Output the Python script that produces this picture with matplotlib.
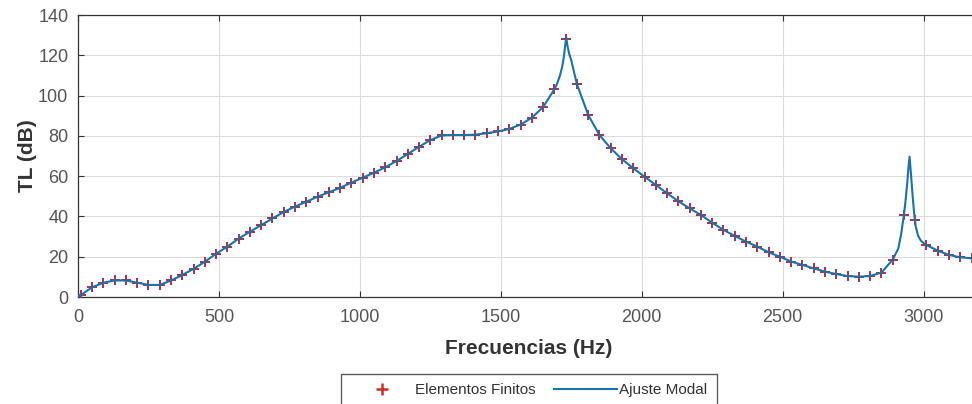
"""TL frente a frecuencia: elementos finitos vs ajuste modal"""

import numpy as np
import matplotlib
matplotlib.use("Agg")
import matplotlib.pyplot as plt
from matplotlib.lines import Line2D

plt.rcParams["font.family"] = ["Liberation Sans", "DejaVu Sans"]

# puntos FEM, cada 40 Hz desde 10 Hz
fem_freq = np.arange(10, 3171, 40)
fem_tl = [
    1.0, 4.8, 7.1, 8.2, 8.2, 7.1, 6.0, 6.0, 8.2, 10.9,
    14.0, 17.5, 21.5, 25.0, 29.0, 32.4, 35.7, 39.0, 42.2, 44.9,
    47.3, 49.8, 52.0, 54.2, 56.8, 59.2, 61.7, 64.4, 67.5, 71.0,
    74.6, 77.9, 80.2, 80.4, 80.4, 80.6, 81.3, 82.2, 83.4, 85.6,
    89.0, 94.3, 103.1, 128.0, 105.7, 90.4, 80.4, 73.8, 68.4, 63.9,
    59.7, 55.6, 51.5, 47.5, 44.0, 40.7, 36.9, 33.3, 30.3, 27.5,
    25.0, 22.2, 20.0, 17.6, 15.9, 14.2, 12.6, 11.4, 10.4, 10.1,
    10.4, 12.1, 18.5, 40.7, 38.2, 25.8, 23.0, 20.9, 19.7, 19.2,
]

# ajuste modal: detalle cerca de las resonancias
peak1_freq = [1700, 1710, 1718, 1724, 1728, 1732, 1736, 1742, 1750, 1760]
peak1_tl   = [106.0, 110.0, 114.5, 119.5, 124.5, 129.0, 125.0, 121.0, 117.5, 111.5]
peak2_freq = [2910, 2920, 2930, 2936, 2942, 2946, 2950, 2954, 2960, 2966, 2972, 2980, 2990, 3000]
peak2_tl   = [24.0, 31.0, 40.7, 48.0, 57.0, 64.0, 69.7, 63.0, 52.0, 42.0, 35.0, 30.5, 28.0, 26.8]

LINE_COLOR = "#1a72a6"
MARK_COLOR = "#a8304a"    # se ve oscuro bajo la línea
LEG_MARK   = "#d42a2a"

fem_tl = np.asarray(fem_tl)
keep = ~(((fem_freq > 1690) & (fem_freq < 1770)) | ((fem_freq > 2890) & (fem_freq < 3010)))
fit_freq = np.concatenate([[0], fem_freq[keep], peak1_freq, peak2_freq])
fit_tl = np.concatenate([[0.0], fem_tl[keep], peak1_tl, peak2_tl])
order = np.argsort(fit_freq)
fit_freq, fit_tl = fit_freq[order], fit_tl[order]

fig = plt.figure(figsize=(9.72, 4.04), dpi=100)
ax = fig.add_axes([78 / 972, 107 / 404, 902 / 972, 282 / 404])

ax.plot(fem_freq, fem_tl, linestyle="none", marker="+", ms=7, mew=1.4,
        color=MARK_COLOR, zorder=3)
ax.plot(fit_freq, fit_tl, color=LINE_COLOR, lw=1.5, zorder=4)

ax.set_xlim(0, 3200)
ax.set_ylim(0, 140)
ax.set_xticks([0, 500, 1000, 1500, 2000, 2500, 3000])
ax.set_yticks(range(0, 141, 20))
ax.grid(True, color="#dcdcdc", lw=0.8)
ax.set_axisbelow(True)
ax.tick_params(direction="in", length=4, width=0.8, top=True, right=True,
               labelsize=13, colors="#333333", labelcolor="#555555", pad=7)
ax.tick_params(axis="x", pad=9)
for s in ax.spines.values():
    s.set_color("#333333")
    s.set_linewidth(0.9)

ax.set_xlabel("Frecuencias (Hz)", fontsize=15, fontweight="bold", color="#333333", labelpad=9)
ax.set_ylabel("TL (dB)", fontsize=15, fontweight="bold", color="#333333", labelpad=1)

handles = [
    Line2D([], [], linestyle="none", marker="+", ms=8, mew=1.8, color=LEG_MARK),
    Line2D([], [], color=LINE_COLOR, lw=1.5),
]
fig.legend(handles, ["Elementos Finitos", "Ajuste Modal"], loc="upper center",
           bbox_to_anchor=(529 / 972, 30 / 404), ncol=2, fontsize=11, frameon=True,
           fancybox=False, edgecolor="#333333", handlelength=4.1, handletextpad=0.15,
           columnspacing=1.2, borderpad=0.6, borderaxespad=0, labelcolor="#333333")

fig.savefig("out.png", dpi=100)
